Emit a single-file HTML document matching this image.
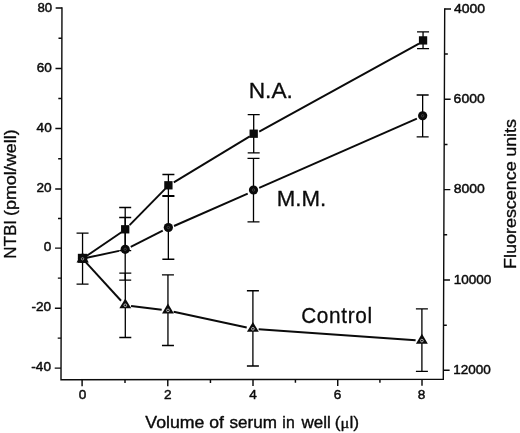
<!DOCTYPE html>
<html lang="en"><head><meta charset="utf-8"><title>NTBI vs volume of serum in well</title>
<style>html,body{margin:0;padding:0;background:#fff}body{width:520px;height:433px;overflow:hidden}</style>
</head><body>
<svg width="520" height="433" viewBox="0 0 520 433" font-family="'Liberation Sans', Arial, sans-serif" fill="#0b0b0b" style="display:block;filter:blur(0.22px)">
<rect width="520" height="433" fill="#fff" stroke="none"/>
<g stroke="#0b0b0b" stroke-width="1.95">
<line x1="85.03" y1="257.01" x2="121.40" y2="232.19"/>
<line x1="129.61" y1="225.10" x2="165.18" y2="188.88"/>
<line x1="173.79" y1="182.34" x2="249.76" y2="136.38"/>
<line x1="259.22" y1="131.66" x2="419.02" y2="43.62"/>
<line x1="85.48" y1="258.07" x2="119.04" y2="250.91"/>
<line x1="130.73" y1="246.80" x2="162.73" y2="230.64"/>
<line x1="174.02" y1="226.00" x2="247.73" y2="193.54"/>
<line x1="259.18" y1="187.81" x2="416.88" y2="118.58"/>
<line x1="84.58" y1="260.91" x2="121.05" y2="300.75"/>
<line x1="131.06" y1="306.09" x2="161.69" y2="309.75"/>
<line x1="173.62" y1="311.73" x2="246.74" y2="327.57"/>
<line x1="258.69" y1="329.30" x2="415.62" y2="340.26"/>
</g>
<g stroke="#000" stroke-width="1.3" fill="none">
<path d="M125.20 207.50V250.60M119.20 207.50H131.20M119.20 250.60H131.20"/>
<path d="M168.40 174.50V196.40M162.40 174.50H174.40M162.40 196.40H174.40"/>
<path d="M253.70 114.70V152.90M247.70 114.70H259.70M247.70 152.90H259.70"/>
<path d="M423.05 31.85V48.70M417.05 31.85H429.05M417.05 48.70H429.05"/>
<path d="M82.55 233.10V284.10M76.55 233.10H88.55M76.55 284.10H88.55"/>
<path d="M125.20 217.50V280.20M119.20 217.50H131.20M119.20 280.20H131.20"/>
<path d="M168.35 195.60V259.25M162.35 195.60H174.35M162.35 259.25H174.35"/>
<path d="M253.50 158.40V221.90M247.50 158.40H259.50M247.50 221.90H259.50"/>
<path d="M422.65 95.00V136.90M416.65 95.00H428.65M416.65 136.90H428.65"/>
<path d="M125.30 273.20V337.50M119.30 273.20H131.30M119.30 337.50H131.30"/>
<path d="M167.95 274.80V345.50M161.95 274.80H173.95M161.95 345.50H173.95"/>
<path d="M252.90 290.75V366.00M246.90 290.75H258.90M246.90 366.00H258.90"/>
<path d="M421.90 308.90V371.40M415.90 308.90H427.90M415.90 371.40H427.90"/>
</g>
<g fill="#0b0b0b">
<rect x="77.85" y="253.80" width="9.4" height="9.00"/>
<rect x="121.05" y="225.15" width="8.3" height="8.30"/>
<rect x="164.25" y="181.15" width="8.3" height="8.30"/>
<rect x="249.55" y="129.55" width="8.3" height="8.30"/>
<rect x="418.90" y="36.25" width="8.3" height="8.30"/>
<circle cx="82.55" cy="258.40" r="4.6"/><circle cx="82.55" cy="258.40" r="1.2" fill="none" stroke="#555" stroke-width="0.7"/>
<circle cx="125.20" cy="249.30" r="4.6"/><circle cx="125.20" cy="249.30" r="1.2" fill="none" stroke="#555" stroke-width="0.7"/>
<circle cx="168.35" cy="227.50" r="4.6"/><circle cx="168.35" cy="227.50" r="1.2" fill="none" stroke="#555" stroke-width="0.7"/>
<circle cx="253.50" cy="190.00" r="4.6"/><circle cx="253.50" cy="190.00" r="1.2" fill="none" stroke="#555" stroke-width="0.7"/>
<circle cx="422.65" cy="115.75" r="4.6"/><circle cx="422.65" cy="115.75" r="1.2" fill="none" stroke="#555" stroke-width="0.7"/>
<path d="M82.55 252.40L88.85 262.60H76.55Z"/>
<circle cx="82.55" cy="258.80" r="1.2" fill="none" stroke="#bbb" stroke-width="0.7"/>
<path d="M125.30 298.50L131.25 308.35H119.35Z"/>
<circle cx="125.30" cy="305.30" r="1.35" fill="none" stroke="#d8d8d8" stroke-width="0.8"/>
<path d="M167.95 303.60L173.90 313.45H162.00Z"/>
<circle cx="167.95" cy="310.40" r="1.35" fill="none" stroke="#d8d8d8" stroke-width="0.8"/>
<path d="M252.90 322.00L258.85 331.85H246.95Z"/>
<circle cx="252.90" cy="328.80" r="1.35" fill="none" stroke="#d8d8d8" stroke-width="0.8"/>
<path d="M421.90 333.80L427.85 343.65H415.95Z"/>
<circle cx="421.90" cy="340.60" r="1.35" fill="none" stroke="#d8d8d8" stroke-width="0.8"/>
</g>
<g fill="none" stroke="#0b0b0b">
<path d="M61.97 7.2L61.00 380.4M444.71 8.2L443.30 380.0M60.3 379.80L444.0 379.34" stroke-width="1.4"/>
<path d="M61.03 368.10h-6.3M61.11 338.12h-3.4M61.19 308.15h-6.3M61.26 278.12h-3.4M61.34 248.10h-6.3M61.42 218.55h-3.4M61.50 189.00h-6.3M61.57 158.70h-3.4M61.65 128.40h-6.3M61.73 98.45h-3.4M61.81 68.50h-6.3M61.89 38.20h-3.4M61.97 7.90h-6.3M444.71 8.90h6.3M444.54 54.08h3.3M444.36 99.26h6.3M444.19 144.44h3.3M444.02 189.62h6.3M443.85 234.80h3.3M443.68 279.98h6.3M443.51 325.16h3.3M443.33 370.34h6.3M82.10 379.77v6.5M125.00 379.72v3.3M167.78 379.67v6.5M210.45 379.62v3.3M253.00 379.57v6.5M295.42 379.52v3.3M337.74 379.47v6.5M379.93 379.42v3.3M422.00 379.37v6.5" stroke-width="1.45"/>
</g>
<g stroke="#0b0b0b" stroke-width="0.45" stroke-linejoin="round">
<text transform="translate(31.34 371.42) scale(1.0300 1)" font-size="13.2">-40</text>
<text transform="translate(31.53 311.42) scale(1.0300 1)" font-size="13.2">-20</text>
<text transform="translate(43.80 251.42) scale(1.0300 1)" font-size="13.2">0</text>
<text transform="translate(36.42 191.82) scale(1.0300 1)" font-size="13.2">20</text>
<text transform="translate(36.61 131.87) scale(1.0300 1)" font-size="13.2">40</text>
<text transform="translate(36.80 71.92) scale(1.0300 1)" font-size="13.2">60</text>
<text transform="translate(37.41 12.05) scale(1.0000 1)" font-size="13.2">80</text>
<text transform="translate(454.02 12.62) scale(1.0600 1)" font-size="13.2">4000</text>
<text transform="translate(453.60 103.02) scale(1.0600 1)" font-size="13.2">6000</text>
<text transform="translate(453.74 193.45) scale(1.0600 1)" font-size="13.2">8000</text>
<text transform="translate(453.79 283.82) scale(1.0250 1)" font-size="13.2">10000</text>
<text transform="translate(453.29 374.22) scale(1.0250 1)" font-size="13.2">12000</text>
<text transform="translate(78.63 398.72) scale(1.0300 1)" font-size="13.2">0</text>
<text transform="translate(164.10 398.72) scale(1.0300 1)" font-size="13.2">2</text>
<text transform="translate(249.21 398.65) scale(1.0300 1)" font-size="13.2">4</text>
<text transform="translate(333.67 398.72) scale(1.0300 1)" font-size="13.2">6</text>
<text transform="translate(417.83 398.75) scale(1.0300 1)" font-size="13.2">8</text>
<text transform="translate(248.68 97.60) scale(1.0574 1)" font-size="21.5" stroke-width="0.3">N.A.</text>
<text transform="translate(276.82 206.30) scale(1.0349 1)" font-size="21.5" stroke-width="0.3">M.M.</text>
<text transform="translate(301.16 323.20) scale(0.9663 1)" font-size="21.5" letter-spacing="0.7" stroke-width="0.3">Control</text>
<text transform="translate(16.40 258.66) rotate(-90) scale(1.0283 1)" font-size="16.5" stroke-width="0.32">NTBI</text>
<text transform="translate(16.40 216.08) rotate(-90) scale(1.0885 1)" font-size="16.5" stroke-width="0.32">(pmol/well)</text>
<text transform="translate(515.90 269.09) rotate(-90) scale(1.0909 1)" font-size="16.5" stroke-width="0.32">Fluorescence</text>
<text transform="translate(515.90 156.81) rotate(-90) scale(1.0857 1)" font-size="16.5" stroke-width="0.32">units</text>
<text transform="translate(145.30 427.7) scale(1.0744 1)" font-size="16.5" stroke-width="0.4">Volume</text>
<text transform="translate(209.30 427.7) scale(1.0657 1)" font-size="16.5" stroke-width="0.4">of</text>
<text transform="translate(229.57 427.7) scale(1.0340 1)" font-size="16.5" stroke-width="0.4">serum</text>
<text transform="translate(282.37 427.7) scale(0.9572 1)" font-size="16.5" stroke-width="0.4">in</text>
<text transform="translate(301.58 427.7) scale(1.0298 1)" font-size="16.5" stroke-width="0.4">well</text>
<text transform="translate(334.75 427.7) scale(1.0610 1)" font-size="16.5" stroke-width="0.32">(<tspan font-family="'Liberation Serif', serif" font-size="15.5">μ</tspan>l)</text>
</g>
</svg>
</body></html>
